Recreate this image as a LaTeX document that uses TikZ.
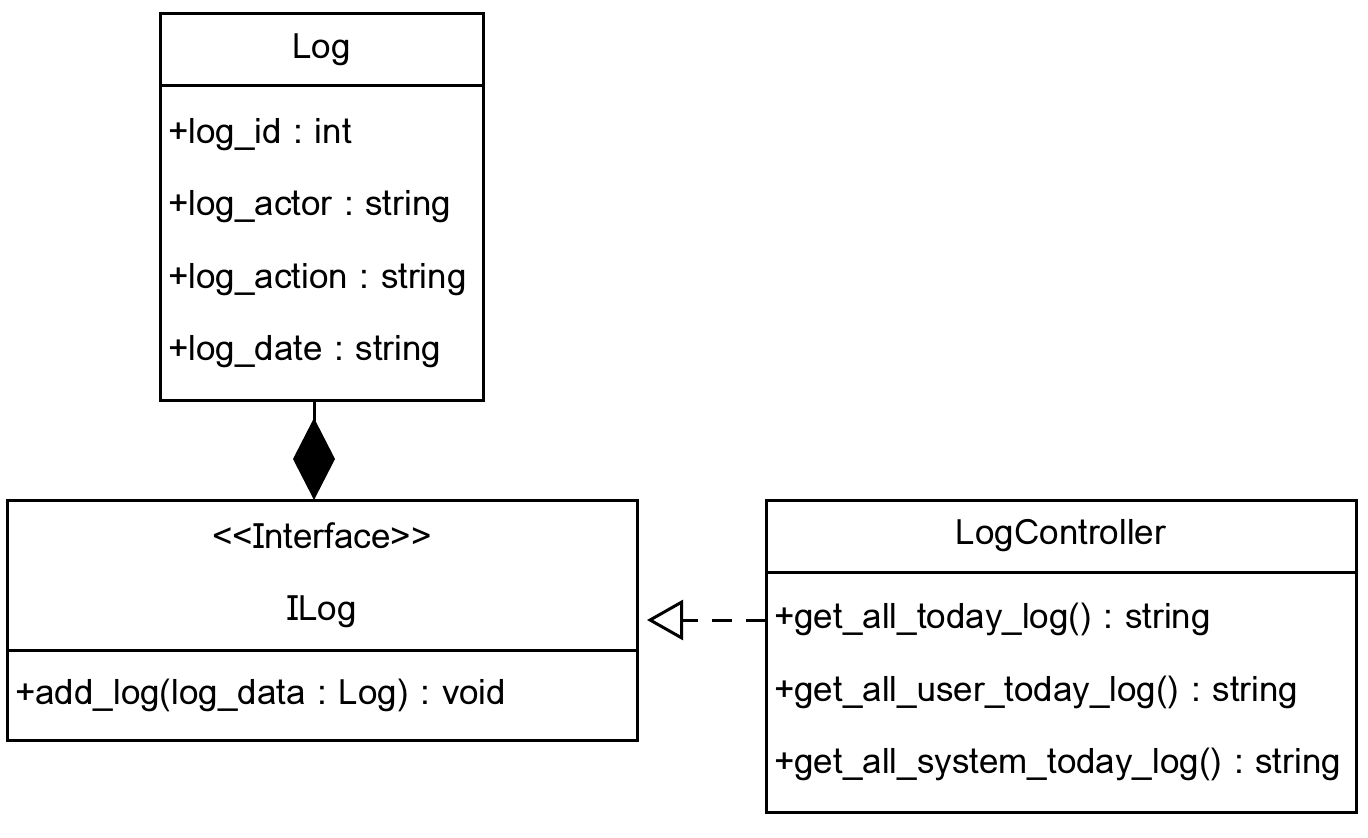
\documentclass[tikz,border=0pt]{standalone}
\usepackage{fontspec}
\setmainfont{Loma}
\usetikzlibrary{arrows.meta,positioning,calc}
\frenchspacing
\tikzset{
  chead/.style={draw, line width=1.5pt, outer sep=0pt, inner xsep=4pt, inner ysep=0pt,
      align=center, font=\fontsize{17.5}{36}\selectfont},
  cbody/.style={draw, line width=1.5pt, outer sep=0pt, inner xsep=4pt, inner ysep=0pt,
      align=left, font=\fontsize{17.5}{36.25}\selectfont},
  comp/.style={line width=1.5pt, -{Diamond[length=41pt, width=21pt]}},
  real/.style={line width=1.5pt, dash pattern=on 10pt off 7pt,
      -{Triangle[open, length=18pt, width=20pt]}, shorten >=5pt},
}

\begin{document}
\begin{tikzpicture}[x=1pt, y=1pt]
  \useasboundingbox (0,0) rectangle (684,418.5);
  % Log class
  \node[chead, text width=153.5pt, minimum height=36pt] (logHead) at (160.75,393.5) {Log};
  \node[cbody, text width=153.5pt, minimum height=157pt, below=0pt of logHead] (logBody)
      {+log\_id : int\\+log\_actor : string\\+log\_action : string\\+log\_date : string};
  % interface
  \node[chead, text width=307pt, minimum height=75pt] (ilogHead) at (161,131)
      {{<}{<}Interface{>}{>}\\ILog};
  \node[cbody, text width=307pt, minimum height=45pt, below=0pt of ilogHead] (ilogBody)
      {+add\_log(log\_data : Log) : void};
  % controller
  \node[chead, text width=287pt, minimum height=36pt] (ctrlHead) at (530.5,150.5) {LogController};
  \node[cbody, text width=287pt, minimum height=120pt, below=0pt of ctrlHead] (ctrlBody)
      {+get\_all\_today\_log() : string\\+get\_all\_user\_today\_log() : string\\+get\_all\_system\_today\_log() : string};
  \coordinate (ilogMid) at ($(ilogHead.north east)!0.5!(ilogBody.south east)$);
  \draw[comp] ([xshift=-3.75pt]logBody.south) -- ([xshift=-3.75pt]logBody.south |- ilogHead.north);
  \draw[real] (ctrlHead.west |- ilogMid) -- (ilogMid);
\end{tikzpicture}
\end{document}
